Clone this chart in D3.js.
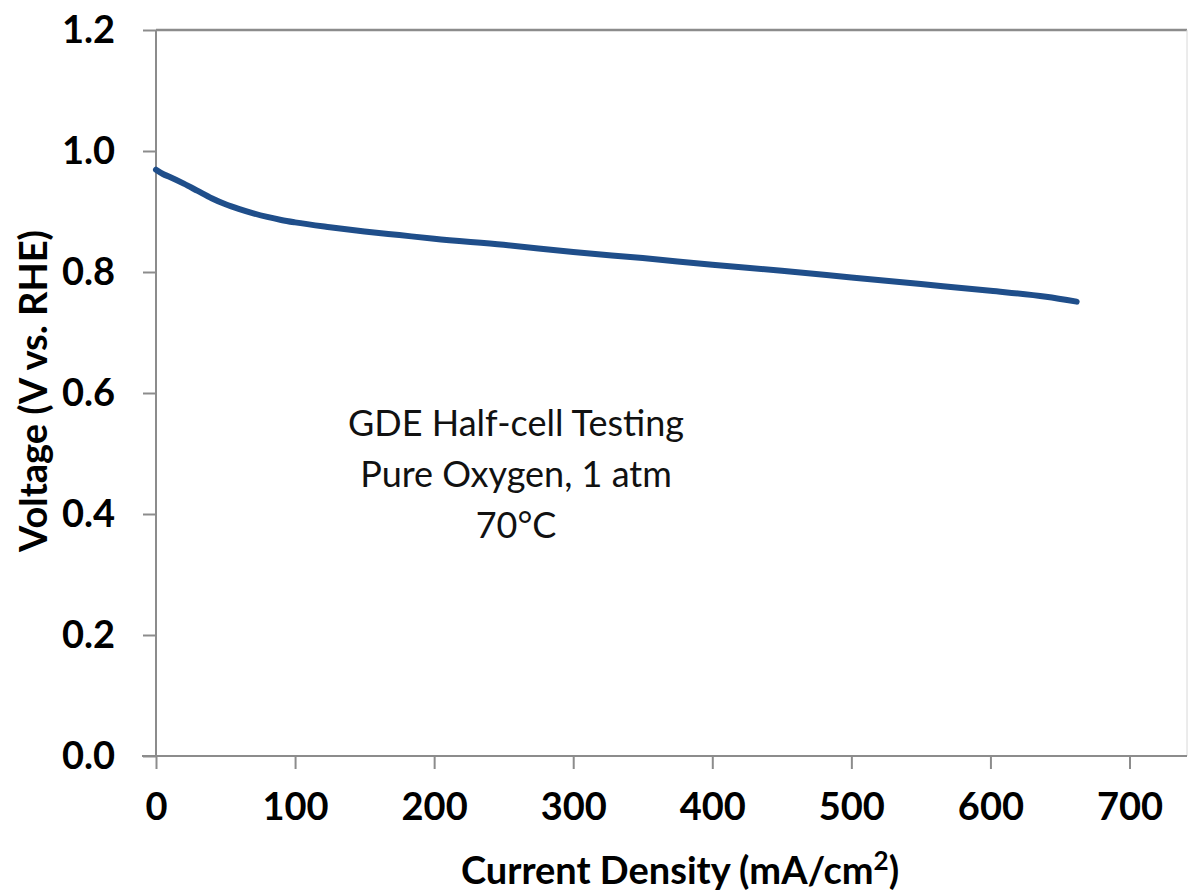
<!DOCTYPE html>
<html>
<head>
<meta charset="utf-8">
<script src="https://cdn.jsdelivr.net/npm/d3@7"></script>
<style>
  body { margin: 0; background: #fff; }
  svg { display: block; font-family: Lato, "Open Sans", sans-serif; }
  .axis path, .axis line { stroke: #8c8c8c; stroke-width: 2; }
  .axis text { font-family: Lato, "Open Sans", sans-serif; font-size: 38px; font-weight: bold; fill: #000; }
</style>
</head>
<body>
<div id="chart"></div>
<script>
// polarization curve
const currentDensity = [0, 5, 10, 20, 30, 40, 50, 60, 70, 80, 90, 100, 125, 150, 175, 200, 250, 300, 350, 400, 450, 500, 550, 600, 640, 662];
const voltage = [0.969, 0.962, 0.957, 0.946, 0.934, 0.922, 0.912, 0.904, 0.897, 0.891, 0.886, 0.882, 0.874, 0.867, 0.861, 0.855, 0.845, 0.833, 0.823, 0.812, 0.802, 0.791, 0.780, 0.769, 0.759, 0.751];
const xTicks = [0, 100, 200, 300, 400, 500, 600, 700];
const yTicks = [0, 0.2, 0.4, 0.6, 0.8, 1.0, 1.2];
const noteLines = ['GDE Half-cell Testing', 'Pure Oxygen, 1 atm', '70°C'];

const width = 1188, height = 891;
const plotLeft = 156, plotTop = 30, plotBottom = 756, plotRight = 1187;

const svg = d3.select('#chart').append('svg')
  .attr('width', width)
  .attr('height', height);

const x = d3.scaleLinear().domain([0, 700]).range([plotLeft, 1129.5]);
const y = d3.scaleLinear().domain([0, 1.2]).range([plotBottom, plotTop]);

// top and right frame lines
svg.append('line')
  .attr('x1', plotLeft).attr('x2', plotRight).attr('y1', plotTop).attr('y2', plotTop)
  .attr('stroke', '#8c8c8c').attr('stroke-width', 2.5);
svg.append('line')
  .attr('x1', plotRight).attr('x2', plotRight).attr('y1', plotTop).attr('y2', plotBottom)
  .attr('stroke', '#d8d8d8').attr('stroke-width', 1);

const xAxis = svg.append('g')
  .attr('class', 'axis')
  .attr('transform', `translate(0,${plotBottom})`)
  .call(d3.axisBottom(x).tickValues(xTicks).tickSize(13).tickPadding(24).tickSizeOuter(0));
xAxis.select('.domain').attr('d', `M${plotLeft - 14},0H${plotRight}`);

const yAxis = svg.append('g')
  .attr('class', 'axis')
  .attr('transform', `translate(${plotLeft},0)`)
  .call(d3.axisLeft(y).tickValues(yTicks).tickFormat(d3.format('.1f')).tickSize(13).tickPadding(28).tickSizeOuter(0));
yAxis.select('.domain').attr('d', `M0,${plotTop}V${plotBottom}`);

// axis titles
const xTitle = svg.append('text')
  .attr('x', 680).attr('y', 884)
  .attr('text-anchor', 'middle')
  .attr('font-size', 38).attr('font-weight', 'bold');
xTitle.append('tspan').text('Current Density (mA/cm');
xTitle.append('tspan').attr('dy', -14).attr('font-size', 26).text('2');
xTitle.append('tspan').attr('dy', 14).text(')');

svg.append('text')
  .attr('transform', 'translate(47,391) rotate(-90)')
  .attr('text-anchor', 'middle')
  .attr('font-size', 38).attr('font-weight', 'bold')
  .text('Voltage (V vs. RHE)');

// data line
const pts = currentDensity.map((c, i) => [c, voltage[i]]);
svg.append('path')
  .datum(pts)
  .attr('fill', 'none')
  .attr('stroke', '#1f4e8a')
  .attr('stroke-width', 6)
  .attr('stroke-linecap', 'round')
  .attr('d', d3.line().x(d => x(d[0])).y(d => y(d[1])).curve(d3.curveMonotoneX));

// annotation
svg.append('g')
  .selectAll('text')
  .data(noteLines)
  .join('text')
  .attr('x', 516)
  .attr('y', (d, i) => 436 + i * 51)
  .attr('text-anchor', 'middle')
  .attr('font-size', 36)
  .attr('fill', '#111')
  .text(d => d);
</script>
</body>
</html>
